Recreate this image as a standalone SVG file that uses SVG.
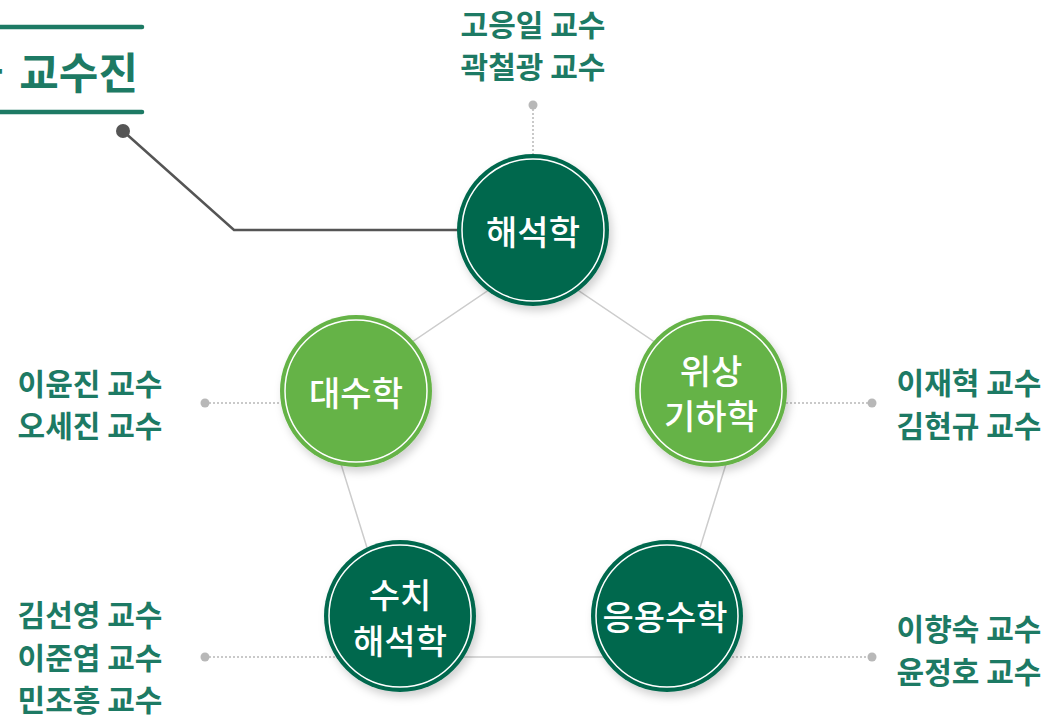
<svg xmlns="http://www.w3.org/2000/svg" width="1046" height="719" viewBox="0 0 1046 719">
<style>
.name{font-family:"Noto Sans CJK KR","Noto Sans",sans-serif;font-weight:700;font-size:30px;fill:#1d7a64;}
.lbl{font-family:"Noto Sans CJK KR","Noto Sans",sans-serif;font-weight:500;font-size:34px;fill:#fff;}
.title{font-family:"Noto Sans CJK KR","Noto Sans",sans-serif;font-weight:700;font-size:43px;fill:#1d7a64;}
.dark{fill:#02684e;}
.light{fill:#65b346;}
.ring{fill:none;stroke:#fff;stroke-width:1.5;}
.edge{fill:none;stroke:#cccccc;stroke-width:1.5;}
.dot{fill:none;stroke:#b8b8b8;stroke-width:1.5;stroke-dasharray:2 2;}
.pin{fill:#b8b8b8;}
</style>
<defs>
<filter id="sh" x="-30%" y="-30%" width="160%" height="160%">
<feDropShadow dx="3" dy="5" stdDeviation="4" flood-color="#000" flood-opacity="0.18"/>
</filter>
</defs>
<rect width="1046" height="719" fill="#fff"/>
<g id="title">
<line x1="-5" y1="27" x2="142" y2="27" stroke="#1d7a64" stroke-width="4.5" stroke-linecap="round"/>
<line x1="-5" y1="112" x2="142" y2="112" stroke="#1d7a64" stroke-width="4.5" stroke-linecap="round"/>
<text class="title" x="3" y="70" text-anchor="end" dominant-baseline="central">수학과</text>
<text class="title" x="138" y="70" text-anchor="end" dominant-baseline="central">교수진</text>
</g>
<g id="connectors">
<polygon class="edge" points="533,260 322,403 401,657 666,657 745,403"/>
<polyline points="123,131 234,230 462,230" fill="none" stroke="#555" stroke-width="2.5"/>
<circle cx="123" cy="131" r="7" fill="#555"/>
<line class="dot" x1="533" y1="105" x2="533" y2="156"/>
<line class="dot" x1="205" y1="403" x2="282" y2="403"/>
<line class="dot" x1="786" y1="403" x2="872" y2="403"/>
<line class="dot" x1="205" y1="657" x2="335" y2="657"/>
<line class="dot" x1="732" y1="657" x2="872" y2="657"/>
<circle class="pin" cx="533" cy="105" r="4.5"/>
<circle class="pin" cx="205" cy="403" r="4.5"/>
<circle class="pin" cx="872" cy="403" r="4.5"/>
<circle class="pin" cx="205" cy="657" r="4.5"/>
<circle class="pin" cx="872" cy="657" r="4.5"/>
</g>
<g id="node-analysis">
<circle class="dark" cx="533" cy="230" r="76" filter="url(#sh)"/>
<circle class="ring" cx="533" cy="230" r="71"/>
<text class="lbl" x="533" y="230" text-anchor="middle" dominant-baseline="central">해석학</text>
</g>
<g id="node-algebra">
<circle class="light" cx="356" cy="391" r="76" filter="url(#sh)"/>
<circle class="ring" cx="356" cy="391" r="71"/>
<text class="lbl" x="356" y="391" text-anchor="middle" dominant-baseline="central">대수학</text>
</g>
<g id="node-topology">
<circle class="light" cx="711" cy="391" r="76" filter="url(#sh)"/>
<circle class="ring" cx="711" cy="391" r="71"/>
<text class="lbl" x="711" y="369" text-anchor="middle" dominant-baseline="central">위상</text>
<text class="lbl" x="711" y="414" text-anchor="middle" dominant-baseline="central">기하학</text>
</g>
<g id="node-numerical">
<circle class="dark" cx="400" cy="616" r="76" filter="url(#sh)"/>
<circle class="ring" cx="400" cy="616" r="71"/>
<text class="lbl" x="400" y="593" text-anchor="middle" dominant-baseline="central">수치</text>
<text class="lbl" x="400" y="639" text-anchor="middle" dominant-baseline="central">해석학</text>
</g>
<g id="node-applied">
<circle class="dark" cx="667" cy="616" r="76" filter="url(#sh)"/>
<circle class="ring" cx="667" cy="616" r="71"/>
<text class="lbl" x="665" y="615" text-anchor="middle" dominant-baseline="central">응용수학</text>
</g>
<g id="names-top">
<text class="name" x="533" y="23" text-anchor="middle" dominant-baseline="central">고응일 교수</text>
<text class="name" x="533" y="65" text-anchor="middle" dominant-baseline="central">곽철광 교수</text>
</g>
<g id="names-left">
<text class="name" x="90" y="382" text-anchor="middle" dominant-baseline="central">이윤진 교수</text>
<text class="name" x="90" y="424" text-anchor="middle" dominant-baseline="central">오세진 교수</text>
</g>
<g id="names-right">
<text class="name" x="969" y="381" text-anchor="middle" dominant-baseline="central">이재혁 교수</text>
<text class="name" x="969" y="424" text-anchor="middle" dominant-baseline="central">김현규 교수</text>
</g>
<g id="names-bottom-left">
<text class="name" x="90" y="613" text-anchor="middle" dominant-baseline="central">김선영 교수</text>
<text class="name" x="90" y="656" text-anchor="middle" dominant-baseline="central">이준엽 교수</text>
<text class="name" x="90" y="698" text-anchor="middle" dominant-baseline="central">민조홍 교수</text>
</g>
<g id="names-bottom-right">
<text class="name" x="969" y="627" text-anchor="middle" dominant-baseline="central">이향숙 교수</text>
<text class="name" x="969" y="670" text-anchor="middle" dominant-baseline="central">윤정호 교수</text>
</g>
</svg>
